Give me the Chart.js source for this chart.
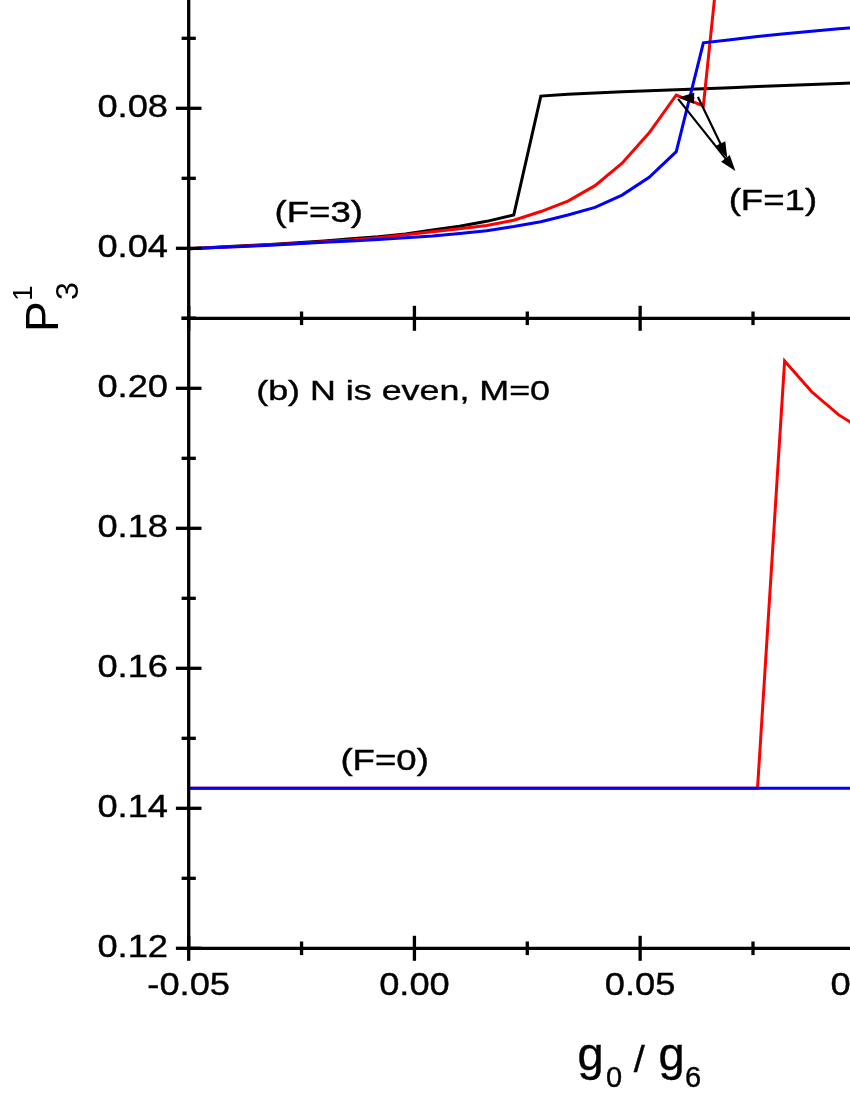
<!DOCTYPE html>
<html>
<head>
<meta charset="utf-8">
<script src="https://cdn.jsdelivr.net/npm/chart.js@4.4.0/dist/chart.umd.min.js"></script>
<style>
html, body { margin: 0; padding: 0; background: #fff; overflow: hidden; }
#marco { position: relative; width: 850px; height: 1100px; overflow: hidden; }
#grafico { position: absolute; left: 0; top: -340px; }
</style>
</head>
<body>
<div id="marco"><canvas id="grafico" width="1140" height="1440"></canvas></div>
<script>
// eje x: g0 / g6
var gx = [-0.050, -0.044, -0.038, -0.032, -0.026, -0.020, -0.014, -0.008, -0.002, 0.004,
          0.010, 0.016, 0.022, 0.028, 0.034, 0.040, 0.046, 0.052, 0.058, 0.064,
          0.070, 0.076, 0.082, 0.088, 0.094, 0.100];

// panel (a)
var negroA = [0.0399, 0.0403, 0.0407, 0.0411, 0.0416, 0.0421, 0.0427, 0.0433, 0.0441, 0.0452,
              0.0463, 0.0477, 0.0495, 0.0835, 0.0840, 0.0844, 0.0847, 0.0850, 0.0853, 0.0856,
              0.0859, 0.0862, 0.0865, 0.0868, 0.0871, 0.0874];
var rojoA = [0.0399, 0.0402, 0.0406, 0.0410, 0.0414, 0.0419, 0.0424, 0.0430, 0.0439, 0.0447,
             0.0456, 0.0465, 0.0480, 0.0505, 0.0535, 0.0579, 0.0643, 0.0730, 0.0838, 0.0807,
             0.1550, null, null, null, null, null];
var azulA = [0.0399, 0.0402, 0.0405, 0.0409, 0.0413, 0.0417, 0.0421, 0.0425, 0.0430, 0.0435,
             0.0442, 0.0450, 0.0462, 0.0476, 0.0495, 0.0517, 0.0552, 0.0603, 0.0676, 0.0987,
             0.0996, 0.1005, 0.1013, 0.1020, 0.1027, 0.1033];

// panel (b)
var rojoB = [0.142857, 0.142857, 0.142857, 0.142857, 0.142857, 0.142857, 0.142857, 0.142857, 0.142857, 0.142857,
             0.142857, 0.142857, 0.142857, 0.142857, 0.142857, 0.142857, 0.142857, 0.142857, 0.142857, 0.142857,
             0.142857, 0.142857, 0.2039, 0.1995, 0.1962, 0.1938];
var azulB = [0.142857, 0.142857, 0.142857, 0.142857, 0.142857, 0.142857, 0.142857, 0.142857, 0.142857, 0.142857,
             0.142857, 0.142857, 0.142857, 0.142857, 0.142857, 0.142857, 0.142857, 0.142857, 0.142857, 0.142857,
             0.142857, 0.142857, 0.142857, 0.142857, 0.142857, 0.142857];

// textos dentro de los paneles (coordenadas de datos)
var notas = [
    { t: '(F=3)', x: -0.0212, y: 0.0476, eje: 'ya', size: 30, sx: 1.22 },
    { t: '(F=1)', x: 0.0794, y: 0.0509, eje: 'ya', size: 30, sx: 1.22 },
    { t: '(F=0)', x: -0.0066, y: 0.1455, eje: 'yb', size: 30, sx: 1.22 },
    { t: '(b) N is even, M=0', x: -0.0025, y: 0.1983, eje: 'yb', size: 28, sx: 1.28 }
];

// flechas del panel (a)
var flechas = [
    { x0: 0.0584, y0: 0.0827, x1: 0.0711, y1: 0.0621 },
    { x0: 0.0628, y0: 0.0832, x1: 0.0693, y1: 0.0658 },
    { x0: 0.0620, y0: 0.0829, x1: 0.0584, y1: 0.0831 }
];

var FUENTE = '"Liberation Sans", Arial, sans-serif';

function puntos(ys) {
    return gx.map(function (x, i) { return { x: x, y: ys[i] }; });
}

function texto(ctx, s, x, y, size, align, sx) {
    ctx.save();
    ctx.translate(x, y);
    ctx.scale(sx, 1);
    ctx.font = size + 'px ' + FUENTE;
    ctx.textAlign = align;
    ctx.textBaseline = 'alphabetic';
    ctx.fillText(s, 0, 0);
    ctx.lineWidth = 0.4;
    ctx.strokeText(s, 0, 0);
    ctx.restore();
}

function esMayor(v, paso) {
    var q = v / paso;
    return Math.abs(q - Math.round(q)) < 1e-6;
}

// ejes, marcas, etiquetas y titulos
var ejes = {
    id: 'ejes',
    afterDatasetsDraw: function (chart) {
        var ctx = chart.ctx;
        var a = chart.chartArea;
        var sx = chart.scales.x, ya = chart.scales.ya, yb = chart.scales.yb;
        ctx.save();
        ctx.strokeStyle = '#000';
        ctx.fillStyle = '#000';
        ctx.lineWidth = 3.3;

        function linea(x0, y0, x1, y1) {
            ctx.beginPath();
            ctx.moveTo(x0, y0);
            ctx.lineTo(x1, y1);
            ctx.stroke();
        }

        // lineas de eje
        linea(a.left, a.top, a.left, a.bottom + 1.6);
        linea(a.left, ya.bottom, a.right, ya.bottom);
        linea(a.left - 1.6, yb.bottom, a.right, yb.bottom);

        // marcas x (ambos paneles)
        sx.ticks.forEach(function (t) {
            var px = sx.getPixelForValue(t.value);
            var h = esMayor(t.value, 0.05) ? 12.5 : 6.8;
            linea(px, ya.bottom - h, px, ya.bottom + h);
            linea(px, yb.bottom - h, px, yb.bottom + h);
            if (esMayor(t.value, 0.05)) {
                texto(ctx, t.value.toFixed(2), px, yb.bottom + 46.7, 31, 'center', 1.17);
            }
        });

        // marcas y
        [[ya, 0.04], [yb, 0.02]].forEach(function (par) {
            var s = par[0];
            s.ticks.forEach(function (t) {
                var py = s.getPixelForValue(t.value);
                var mayor = esMayor(t.value, par[1]);
                var h = mayor ? 12.8 : 7.1;
                linea(a.left - h, py, a.left + h, py);
                if (mayor) {
                    texto(ctx, t.value.toFixed(2), a.left - 20.7, py + 8.5, 31, 'right', 1.17);
                }
            });
        });

        // notas
        notas.forEach(function (n) {
            var s = chart.scales[n.eje];
            texto(ctx, n.t, sx.getPixelForValue(n.x), s.getPixelForValue(n.y), n.size, 'center', n.sx);
        });

        // flechas
        ctx.lineWidth = 2.2;
        flechas.forEach(function (f) {
            var x0 = sx.getPixelForValue(f.x0), y0 = ya.getPixelForValue(f.y0);
            var x1 = sx.getPixelForValue(f.x1), y1 = ya.getPixelForValue(f.y1);
            var ang = Math.atan2(y1 - y0, x1 - x0);
            var L = 16, W = 5.5;
            linea(x0, y0, x1 - L * Math.cos(ang) * 0.6, y1 - L * Math.sin(ang) * 0.6);
            ctx.beginPath();
            ctx.moveTo(x1, y1);
            ctx.lineTo(x1 - L * Math.cos(ang) - W * Math.sin(ang), y1 - L * Math.sin(ang) + W * Math.cos(ang));
            ctx.lineTo(x1 - L * Math.cos(ang) + W * Math.sin(ang), y1 - L * Math.sin(ang) - W * Math.cos(ang));
            ctx.closePath();
            ctx.fill();
        });

        // titulo x: g0 / g6
        var cx = (a.left + a.right) / 2;
        var bx = yb.bottom + 121.7, bs = yb.bottom + 138.7;
        texto(ctx, 'g', cx - 49.5, bx, 47, 'center', 1);
        texto(ctx, '0', cx - 26, bs, 29, 'center', 1);
        texto(ctx, '/', cx - 1, bx + 1.5, 36, 'center', 1.1);
        texto(ctx, 'g', cx + 31.5, bx, 47, 'center', 1);
        texto(ctx, '6', cx + 53, bs, 29, 'center', 1);

        // titulo y: P 3 1
        ctx.translate(a.left - 130.4, yb.top + 13.7);
        ctx.rotate(-Math.PI / 2);
        ctx.textAlign = 'left';
        ctx.textBaseline = 'alphabetic';
        ctx.font = '46px ' + FUENTE;
        ctx.fillText('P', 0, 0);
        ctx.font = '32px ' + FUENTE;
        ctx.fillText('3', 32, 20);
        ctx.font = '28px ' + FUENTE;
        ctx.fillText('1', 31, -26.6);
        ctx.restore();
    }
};

document.addEventListener("DOMContentLoaded", function () {
    var ctx = document.getElementById("grafico").getContext("2d");
    var myChart = new Chart(ctx, {
        type: 'line',
        data: {
            datasets: [
                { data: puntos(azulB), yAxisID: 'yb', borderColor: '#0000ff', borderWidth: 3, pointRadius: 0, tension: 0 },
                { data: puntos(rojoB), yAxisID: 'yb', borderColor: '#ff0000', borderWidth: 3, pointRadius: 0, tension: 0 },
                { data: puntos(azulA), yAxisID: 'ya', borderColor: '#0000ff', borderWidth: 3, pointRadius: 0, tension: 0 },
                { data: puntos(rojoA), yAxisID: 'ya', borderColor: '#ff0000', borderWidth: 3, pointRadius: 0, tension: 0 },
                { data: puntos(negroA), yAxisID: 'ya', borderColor: '#000000', borderWidth: 3, pointRadius: 0, tension: 0 }
            ]
        },
        options: {
            responsive: false,
            devicePixelRatio: 1,
            animation: false,
            layout: { autoPadding: false, padding: { left: 188.7, right: 48.4, top: 28.3, bottom: 151.7 } },
            plugins: { legend: { display: false }, tooltip: { enabled: false } },
            scales: {
                x: {
                    type: 'linear', position: 'bottom', min: -0.05, max: 0.15,
                    ticks: { display: false, stepSize: 0.025 },
                    grid: { display: false, drawTicks: false }, border: { display: false }
                },
                yb: {
                    type: 'linear', position: 'left', stack: 'paneles', stackWeight: 1,
                    min: 0.12, max: 0.21,
                    ticks: { display: false, stepSize: 0.01 },
                    grid: { display: false, drawTicks: false }, border: { display: false }
                },
                ya: {
                    type: 'linear', position: 'left', stack: 'paneles', stackWeight: 1,
                    min: 0.02, max: 0.20,
                    ticks: { display: false, stepSize: 0.02 },
                    grid: { display: false, drawTicks: false }, border: { display: false }
                }
            }
        },
        plugins: [ejes]
    });
});
</script>
</body>
</html>
